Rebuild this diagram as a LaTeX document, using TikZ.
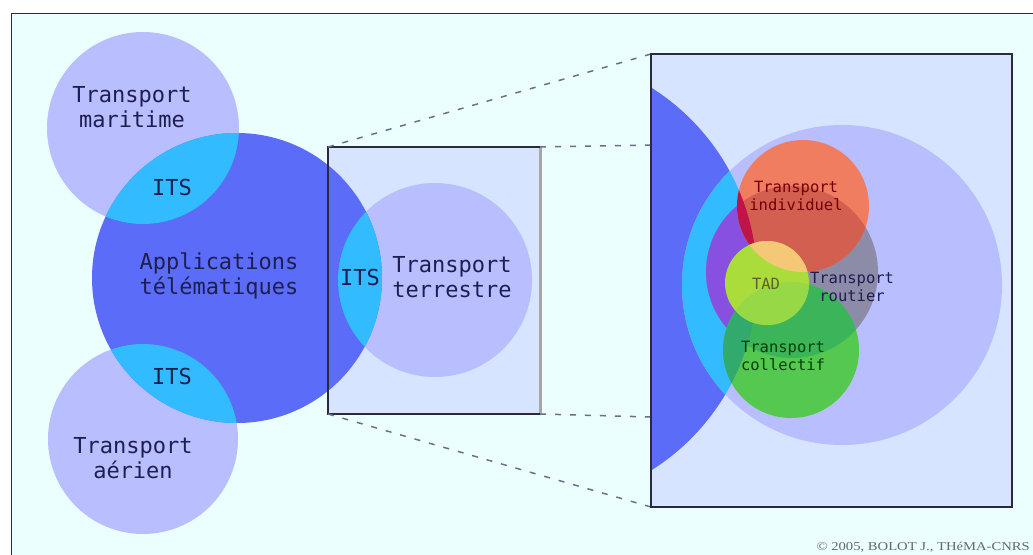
\documentclass[tikz,border=0pt]{standalone}
\usepackage{fontspec}
\setmainfont{Liberation Serif}
\setmonofont{DejaVu Sans Mono}
\definecolor{paper}{HTML}{EBFFFF}
\definecolor{lavender}{HTML}{B9BEFF}
\definecolor{appblue}{HTML}{5A6CF8}
\definecolor{itscyan}{HTML}{33BBFF}
\definecolor{boxfill}{HTML}{D6E4FF}
\definecolor{boxedge}{HTML}{2A2A3A}
\definecolor{dashgray}{HTML}{6E6E8C}
\definecolor{navytext}{HTML}{1E1E50}
\definecolor{routgray}{HTML}{8C8CA8}
\definecolor{routpurple}{HTML}{8750E1}
\definecolor{indsalmon}{HTML}{F07D5F}
\definecolor{inddark}{HTML}{D25F50}
\definecolor{indcrimson}{HTML}{BE1446}
\definecolor{tadpeach}{HTML}{F5C878}
\definecolor{tadlime}{HTML}{AADC3C}
\definecolor{tadgreen}{HTML}{96D846}
\definecolor{colgreen}{HTML}{55C850}
\definecolor{colrout}{HTML}{3CB45A}
\definecolor{colcyan}{HTML}{32AA6E}
\begin{document}
\begin{tikzpicture}[x=1pt,y=-1pt,
  lbl/.style={font=\ttfamily\fontsize{22}{25}\selectfont, text=navytext, align=center, inner sep=0pt},
  slbl/.style={font=\ttfamily\fontsize{15.5}{18.5}\selectfont, align=center, inner sep=0pt},
  boxline/.style={draw=boxedge, line width=1.6pt},
  zoomline/.style={draw=dashgray, dash pattern=on 6pt off 9pt, line width=1.5pt},
]
\useasboundingbox (0,0) rectangle (1033,554);
\fill[white] (0,0) rectangle (1033,554);
% outer frame
\fill[paper] (11,13) rectangle (1045,566);
\draw[boxedge, line width=1pt] (11,566) -- (11,13) -- (1045,13);

% box corners
\coordinate (mTL) at (328,147);
\coordinate (mTR) at (540,147);
\coordinate (mBR) at (540,414);
\coordinate (mBL) at (328,414);
\coordinate (zTL) at (651,54);
\coordinate (zBL) at (651,507);
\coordinate (zTR) at (1012,54);
\coordinate (zBR) at (1012,507);
\coordinate (zU) at (651,145);
\coordinate (zD) at (651,417);

% middle box background
\fill[boxfill] (mTL) rectangle (mBR);

% left diagram
\fill[lavender] (143,128) circle[radius=96pt];
\fill[lavender] (143,439) circle[radius=95pt];
\fill[lavender] (435,280) circle[radius=97pt];
\fill[appblue] (237,278) circle[radius=145pt];
\begin{scope}
  \clip (237,278) circle[radius=145pt];
  \fill[itscyan] (143,128) circle[radius=96pt];
  \fill[itscyan] (143,439) circle[radius=95pt];
  \fill[itscyan] (435,280) circle[radius=97pt];
\end{scope}

% middle box frame with its shadowed right side
\draw[gray!70, line width=3pt] ([xshift=0.5pt]mTR) -- ([xshift=0.5pt]mBR);
\draw[boxline] (mTR) -- (mTL) -- (mBL) -- (mBR);

% zoom lines
\draw[zoomline] (mTL) -- (zTL);
\draw[zoomline] (mTR) -- (zU);
\draw[zoomline] (mBR) -- (zD);
\draw[zoomline] (mBL) -- (zBL);

% enlarged view
\fill[boxfill] (zTL) rectangle (zBR);
\begin{scope}
  \clip (zTL) rectangle (zBR);
  \fill[appblue] (531,279) circle[radius=226pt];
  \fill[lavender] (842,285) circle[radius=160pt];
  \begin{scope}
    \clip (531,279) circle[radius=226pt];
    \fill[itscyan] (842,285) circle[radius=160pt];
  \end{scope}
  % road transport
  \fill[routgray] (792,272) circle[radius=86pt];
  \begin{scope}
    \clip (531,279) circle[radius=226pt];
    \fill[routpurple] (792,272) circle[radius=86pt];
  \end{scope}
  % individual transport
  \fill[indsalmon] (803,206) circle[radius=66pt];
  \begin{scope}
    \clip (803,206) circle[radius=66pt];
    \fill[inddark] (792,272) circle[radius=86pt];
    \fill[indcrimson] (531,279) circle[radius=226pt];
  \end{scope}
  % public transport
  \fill[colgreen] (791,350) circle[radius=68pt];
  \begin{scope}
    \clip (791,350) circle[radius=68pt];
    \fill[colrout] (792,272) circle[radius=86pt];
    \fill[colcyan] (531,279) circle[radius=226pt];
  \end{scope}
  % demand responsive transport
  \fill[tadlime] (767,283) circle[radius=42pt];
  \begin{scope}
    \clip (767,283) circle[radius=42pt];
    \fill[tadgreen] (791,350) circle[radius=68pt];
    \fill[tadpeach] (803,206) circle[radius=66pt];
  \end{scope}
\end{scope}
\draw[boxline] (zTL) rectangle (zBR);

% labels
\node[lbl] (mar) at (132,107) {Transport\\maritime};
\node[lbl] (its1) at (172,187) {ITS};
\node[lbl] (app) at (219,276) {Applications\\télématiques};
\node[lbl] (its2) at (172,376) {ITS};
\node[lbl] (aer) at (133,458) {Transport\\aérien};
\node[lbl] (its3) at (360,277) {ITS};
\node[lbl] (ter) at (452,277) {Transport\\terrestre};

\node[slbl, text=red!45!black] (ind) at (796,196) {Transport\\individuel};
\node[slbl, text=olive!60!black] (tad) at (766,284) {TAD};
\node[slbl, text=navytext] (rou) at (852,287) {Transport\\routier};
\node[slbl, text=green!25!black] (col) at (783,356) {Transport\\collectif};

\node[anchor=base east, inner sep=0pt, text=gray!80!black,
  font=\fontsize{12}{13}\selectfont] (copy) at (1030,550)
  {\scalebox{1.22}[1]{© 2005, BOLOT J., THéMA-CNRS}};
\end{tikzpicture}
\end{document}
